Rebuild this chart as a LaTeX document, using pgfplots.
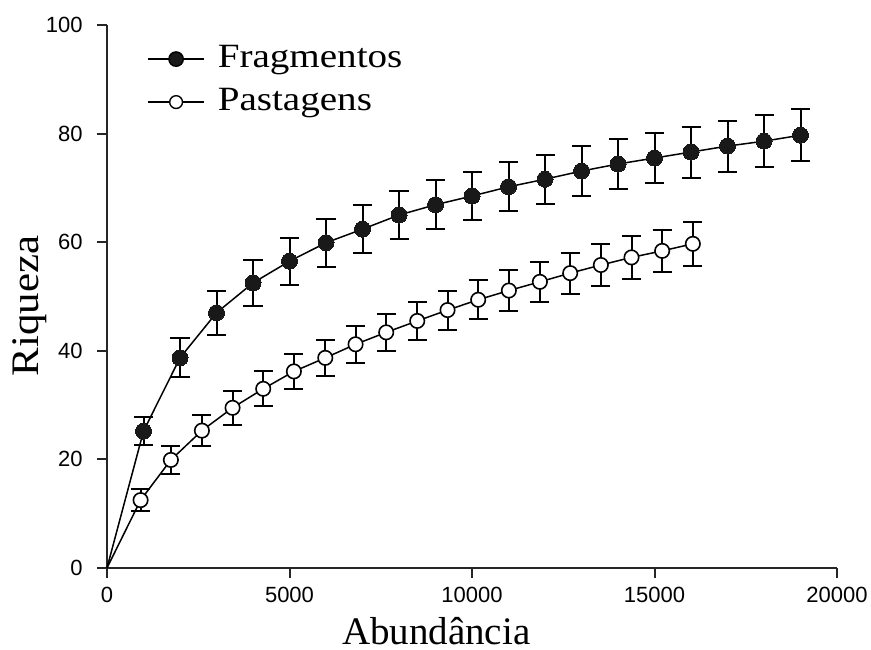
\documentclass[border=0pt]{standalone}
\usepackage{pgfplots}
\pgfplotsset{compat=1.18}
\usepackage{pgfplotstable}
\usepackage{fontspec}
\setmainfont{Liberation Serif}
\setsansfont{Liberation Sans}
\newfontfamily\legfont[FakeStretch=1.15]{Liberation Serif}
\newfontfamily\ylabfont[FakeStretch=1.1]{Liberation Serif}

% rarefaction curves: abundance (x), richness (y), error (+/-)
\pgfplotstableread{
x y e
0 0 0
1000 25.2 2.6
2000 38.7 3.6
3000 47.0 4.0
4000 52.5 4.2
5000 56.5 4.3
6000 59.9 4.4
7000 62.4 4.4
8000 65.0 4.4
9000 66.9 4.5
10000 68.5 4.5
11000 70.2 4.5
12000 71.6 4.5
13000 73.1 4.6
14000 74.4 4.6
15000 75.5 4.6
16000 76.6 4.7
17000 77.7 4.7
18000 78.6 4.8
19000 79.7 4.8
}\fragmentos

\pgfplotstableread{
x y e
0 0 0
920 12.5 2.0
1750 19.9 2.6
2600 25.3 2.9
3440 29.5 3.1
4280 33.0 3.2
5120 36.2 3.2
5980 38.7 3.3
6810 41.2 3.4
7650 43.4 3.4
8500 45.5 3.5
9330 47.5 3.6
10170 49.4 3.6
11010 51.1 3.7
11860 52.7 3.7
12690 54.3 3.8
13530 55.8 3.8
14370 57.2 3.9
15210 58.4 3.9
16050 59.7 4.0
}\pastagens

\begin{document}
\begin{tikzpicture}
\path[use as bounding box] (-53.5bp,-41bp) rectangle (382bp,284bp);
\begin{axis}[
  scale only axis,
  width=365bp, height=271.5bp,
  xmin=0, xmax=20000, ymin=0, ymax=100,
  axis lines*=left,
  axis line style={line width=1bp, black!85},
  tick style={line width=1bp, black!85},
  tick align=outside,
  major tick length=5bp,
  xtick={0,5000,10000,15000,20000},
  ytick={0,20,40,60,80,100},
  scaled x ticks=false,
  /pgf/number format/1000 sep={},
  /pgf/number format/assume math mode=true,
  ticklabel style={font=\sffamily\fontsize{11bp}{13bp}\selectfont, inner sep=0pt},
  xticklabel style={anchor=north, yshift=-4.5bp},
  yticklabel style={anchor=east, xshift=-7bp},
  xlabel={Abundância},
  ylabel={\ylabfont Riqueza},
  label style={font=\fontsize{19.5bp}{22bp}\selectfont},
  xlabel style={at={(rel axis cs:0.451,-0.14)}, anchor=base},
  ylabel style={at={(rel axis cs:-0.0932,0.4825)}, anchor=base},
  legend style={at={(rel axis cs:0.0548,0.9674)}, anchor=north west,
    draw=none, fill=none, inner sep=0pt, row sep=5.5bp,
    font=\legfont\fontsize{17bp}{20bp}\selectfont,
    nodes={inner xsep=6.5bp, inner ysep=0pt, text height=12bp, text depth=4bp}},
  legend cell align=left,
  legend image code/.code={
    \draw[mark repeat=2, mark phase=2, line width=0.7bp]
      plot coordinates {(0bp,0bp) (14bp,0bp) (28bp,0bp)};},
  clip=false,
  error bars/y dir=both,
  error bars/y explicit,
  error bars/error bar style={line width=1bp, black},
  error bars/error mark options={black, line width=1bp, mark size=4.75bp, rotate=90},
]
\addlegendimage{black, mark=*, mark size=3.6bp, mark options={fill=black!90}}
\addlegendentry{Fragmentos}
\addlegendimage{black, mark=*, mark size=3.2bp, mark options={fill=white, line width=0.7bp}}
\addlegendentry{Pastagens}

% connecting lines, starting at the origin
\addplot[forget plot, black, line width=0.75bp, mark=none, error bars/y dir=none]
  table[x=x, y=y] {\fragmentos};
\addplot[forget plot, black, line width=0.75bp, mark=none, error bars/y dir=none]
  table[x=x, y=y] {\pastagens};

% sampled points with error bars
\addplot[forget plot, only marks, black, mark=*, mark size=4bp,
  mark options={fill=black!90, draw=black!90, line width=0pt},
  restrict x to domain=1:20000]
  table[x=x, y=y, y error=e] {\fragmentos};
\addplot[forget plot, only marks, black, mark=*, mark size=3.6bp,
  mark options={fill=white, draw=black, line width=0.8bp},
  restrict x to domain=1:20000]
  table[x=x, y=y, y error=e] {\pastagens};
\end{axis}
\end{tikzpicture}
\end{document}
